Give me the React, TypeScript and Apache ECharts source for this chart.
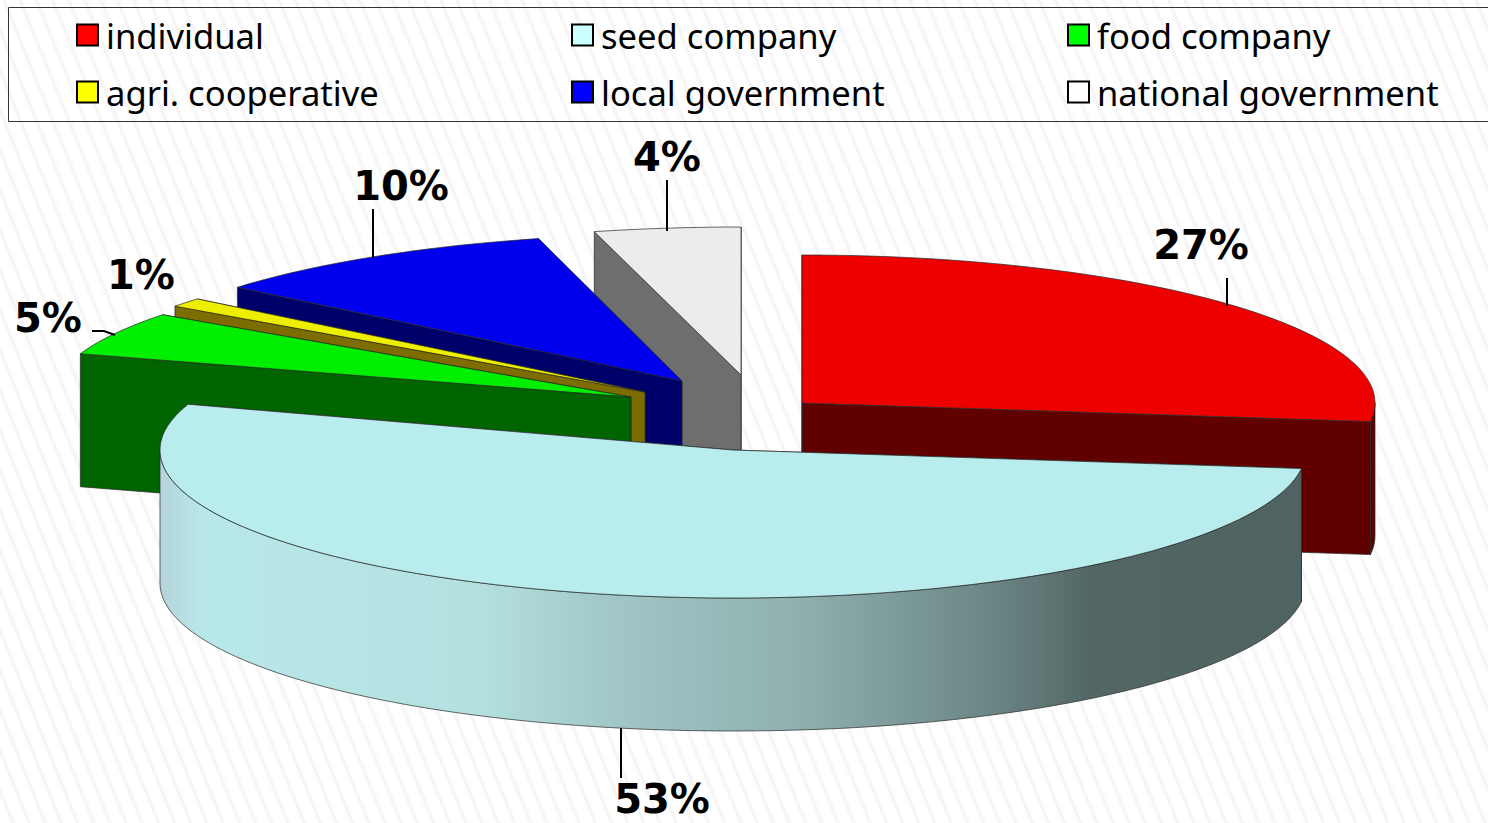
import React, { useEffect, useRef } from "react";
import * as echarts from "echarts";

// Shares per owner, in percent, clockwise from twelve o'clock.
const owners = ["individual", "seed company", "food company", "agri. cooperative", "local government", "national government"];
const shares = [27, 53, 5, 1, 10, 4];

// Legend columns, top to bottom.
const legendColumns = [
  { names: ["individual", "agri. cooperative"], left: 76 },
  { names: ["seed company", "local government"], left: 571 },
  { names: ["food company", "national government"], left: 1067 },
];

const topColors = ["#ee0000", "#b9ecec", "#00ee00", "#eeee00", "#0000ee", "#ececec"];
const legendColors = ["#ff0000", "#ccffff", "#00ff00", "#ffff00", "#0000ff", "#ffffff"];
const wallColors = ["#600000", "#4f6462", "#006400", "#7d6c00", "#00006b", "#6e6e6e"];

// Each wedge is pulled out of the pie on its own: ellipse centre and radii in pixels.
const wedgeCx = [802, 733, 631, 645, 682, 741];
const wedgeCy = [403, 450, 397, 392, 381, 375];
const wedgeRx = [573, 573, 579, 581, 577, 590];
const wedgeRy = [148, 148, 140, 146, 147, 148];
const pieDepth = 133;

const labelX = [1201, 662, 48, 141, 401, 667];
const labelY = [245, 799, 318, 275, 186, 157];
const leaders: number[][][] = [
  [[1227, 278], [1227, 306]],
  [[621, 728], [621, 778]],
  [[92, 331], [104, 331], [115, 335]],
  [],
  [[373, 209], [373, 258]],
  [[667, 180], [667, 231]],
];

// Back slices are painted first, the seed company wedge last.
const paintOrder = [5, 4, 3, 2, 0, 1];

const seedRimStops = [
  { offset: 0, color: "#b4d4da" },
  { offset: 0.04, color: "#b9e8ea" },
  { offset: 0.28, color: "#b4e0e0" },
  { offset: 0.4, color: "#a0c6c6" },
  { offset: 0.56, color: "#8fb0af" },
  { offset: 0.72, color: "#6c8887" },
  { offset: 0.82, color: "#526664" },
  { offset: 1, color: "#4f6462" },
];

const total = shares.reduce((a, b) => a + b, 0);
const RAD = Math.PI / 180;

function wedgeAngles(i: number): [number, number] {
  const before = shares.slice(0, i).reduce((a, b) => a + b, 0);
  return [(before / total) * 360, ((before + shares[i]) / total) * 360];
}

function rimPoint(i: number, deg: number, drop = 0): number[] {
  return [
    wedgeCx[i] + wedgeRx[i] * Math.sin(deg * RAD),
    wedgeCy[i] - wedgeRy[i] * Math.cos(deg * RAD) + drop,
  ];
}

function arcPoints(i: number, from: number, to: number, drop = 0): number[][] {
  const steps = Math.max(2, Math.ceil((to - from) / 1.5));
  const pts: number[][] = [];
  for (let k = 0; k <= steps; k++) pts.push(rimPoint(i, from + ((to - from) * k) / steps, drop));
  return pts;
}

function drawWedge(i: number, value: number) {
  const [a0, a1] = wedgeAngles(i);
  const apex = [wedgeCx[i], wedgeCy[i]];
  const apexLow = [wedgeCx[i], wedgeCy[i] + pieDepth];
  const edge = { stroke: "rgba(40,40,40,0.7)", lineWidth: 1 };
  const children: any[] = [];

  // Cut faces; the closing face first, so the leading one overlaps it on the left-hand wedges
  for (const a of [a1, a0]) {
    children.push({
      type: "polygon",
      shape: { points: [apex, rimPoint(i, a), rimPoint(i, a, pieDepth), apexLow] },
      style: { fill: wallColors[i], ...edge },
    });
  }

  // Outer rim, only where it faces the viewer
  const r0 = Math.max(a0, 90);
  const r1 = Math.min(a1, 270);
  if (r1 > r0) {
    const rim0 = arcPoints(i, r0, r1);
    const rim1 = arcPoints(i, r0, r1, pieDepth).reverse();
    const fill = i === 1
      ? new echarts.graphic.LinearGradient(0, 0, 1, 0, seedRimStops)
      : wallColors[i];
    children.push({
      type: "polygon",
      shape: { points: [...rim0, ...rim1] },
      style: { fill, ...edge },
    });
  }

  // Top face
  children.push({
    type: "polygon",
    shape: { points: [apex, ...arcPoints(i, a0, a1)] },
    style: { fill: topColors[i], ...edge },
  });

  // Leader and value label
  if (leaders[i].length) {
    children.push({
      type: "polyline",
      shape: { points: leaders[i] },
      style: { fill: "none", stroke: "#000", lineWidth: 2 },
    });
  }
  children.push({
    type: "text",
    style: {
      x: labelX[i],
      y: labelY[i],
      text: `${value}%`,
      fill: "#000",
      font: 'bold 40px "DejaVu Sans"',
      textAlign: "center",
      textVerticalAlign: "middle",
    },
  });
  return { type: "group", children };
}

export default function App() {
  const ref = useRef<HTMLDivElement>(null);

  useEffect(() => {
    document.body.style.margin = "0";
    const chart = echarts.init(ref.current!, undefined, { renderer: "svg" });
    chart.setOption({
      animation: false,
      legend: legendColumns.map((c) => ({
        data: c.names,
        left: c.left,
        top: 15,
        padding: 0,
        orient: "vertical",
        align: "left",
        selectedMode: false,
        icon: "rect",
        itemWidth: 21,
        itemHeight: 21,
        itemGap: 17,
        itemStyle: { borderColor: "#000", borderWidth: 2 },
        textStyle: { fontFamily: "Noto Sans", fontSize: 34.6, color: "#000", lineHeight: 40, padding: [0, 0, 0, 3] },
      })),
      graphic: [
        {
          type: "rect",
          z: -1,
          silent: true,
          shape: { x: 8.5, y: 7.5, width: 1490, height: 114 },
          style: { fill: "none", stroke: "#333", lineWidth: 1 },
        },
      ],
      series: owners.map((name, i) => ({
        type: "custom",
        name,
        coordinateSystem: "none",
        silent: true,
        z: 2 + paintOrder.indexOf(i),
        itemStyle: { color: legendColors[i] },
        data: [shares[i]],
        renderItem: (_p: any, api: any) => drawWedge(i, api.value(0)),
      })),
    });
    return () => chart.dispose();
  }, []);

  return (
    <div
      ref={ref}
      style={{
        position: "absolute",
        left: 0,
        top: 0,
        width: 1488,
        height: 823,
        overflow: "hidden",
        background: "repeating-linear-gradient(68deg, #ffffff 0px, #ffffff 9px, #f3f3f3 12px, #ffffff 15px)",
      }}
    />
  );
}
